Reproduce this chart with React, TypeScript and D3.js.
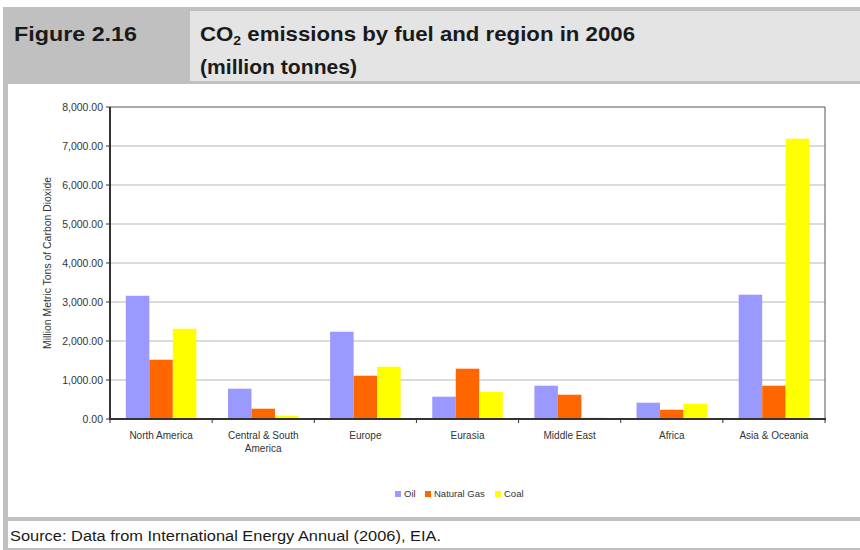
import React from "react";
import * as d3 from "d3";

// Regions and CO2 emissions (million metric tons) by fuel, 2006
const regions = [
  "North America",
  "Central & South America",
  "Europe",
  "Eurasia",
  "Middle East",
  "Africa",
  "Asia & Oceania",
];
const fuels = ["Oil", "Natural Gas", "Coal"];
const oil = [3160, 777, 2238, 572, 854, 418, 3187];
const naturalGas = [1520, 264, 1110, 1290, 623, 238, 854];
const coal = [2315, 85, 1341, 700, 40, 392, 7187];
const fuelColors = ["#9999ff", "#ff6600", "#ffff00"];
const yTicks = [0, 1000, 2000, 3000, 4000, 5000, 6000, 7000, 8000];
const regionLabelLines: string[][] = [
  ["North America"],
  ["Central & South", "America"],
  ["Europe"],
  ["Eurasia"],
  ["Middle East"],
  ["Africa"],
  ["Asia & Oceania"],
];

const W = 860;
const H = 550;
const plot = { left: 110, right: 825, top: 107, bottom: 419 };
const axisFont = "'Liberation Sans', Arial, sans-serif";

export default function App() {
  const series = [oil, naturalGas, coal];

  const x = d3
    .scaleBand<string>()
    .domain(regions)
    .range([plot.left, plot.right])
    .paddingInner(0.31)
    .paddingOuter(0.155);
  const xFuel = d3
    .scaleBand<string>()
    .domain(fuels)
    .range([0, x.bandwidth()])
    .padding(0);
  const y = d3.scaleLinear().domain([0, 8000]).range([plot.bottom, plot.top]);
  const fmt = d3.format(",.2f");
  const step = (plot.right - plot.left) / regions.length;

  return (
    <svg
      width={W}
      height={H}
      style={{ position: "absolute", left: 0, top: 0, background: "#fff" }}
    >
      {/* header band */}
      <rect x={3} y={7} width={W - 3} height={77} fill="#c0c0c0" />
      <rect x={190} y={11} width={W - 190} height={70} fill="#e4e4e4" />
      <text
        x={14}
        y={41}
        fontFamily={axisFont}
        fontWeight="bold"
        fontSize={20.5}
        fill="#1a1a1a"
        textLength={123}
        lengthAdjust="spacingAndGlyphs"
      >
        Figure 2.16
      </text>
      <text
        x={200}
        y={41}
        fontFamily={axisFont}
        fontWeight="bold"
        fontSize={20.5}
        fill="#1a1a1a"
        textLength={435}
        lengthAdjust="spacingAndGlyphs"
      >
        CO<tspan fontSize={13} dy={4}>2</tspan>
        <tspan dy={-4}> emissions by fuel and region in 2006</tspan>
      </text>
      <text
        x={200}
        y={74}
        fontFamily={axisFont}
        fontWeight="bold"
        fontSize={20.5}
        fill="#1a1a1a"
        textLength={157}
        lengthAdjust="spacingAndGlyphs"
      >
        (million tonnes)
      </text>

      {/* left border and footer */}
      <rect x={3} y={84} width={5} height={H - 84} fill="#c0c0c0" />
      <rect x={3} y={517} width={W - 3} height={4} fill="#c0c0c0" />
      <rect x={3} y={548} width={W - 3} height={2} fill="#c0c0c0" />
      <text
        x={10}
        y={541}
        fontFamily={axisFont}
        fontSize={15.5}
        fill="#1a1a1a"
        textLength={431}
        lengthAdjust="spacingAndGlyphs"
      >
        Source: Data from International Energy Annual (2006), EIA.
      </text>

      {/* gridlines */}
      {yTicks.slice(1, -1).map((t) => (
        <line
          key={"g" + t}
          x1={plot.left}
          x2={plot.right}
          y1={y(t)}
          y2={y(t)}
          stroke="#cfcfcf"
          strokeWidth={1.5}
        />
      ))}

      {/* bars */}
      {regions.map((r, i) => (
        <g key={r} transform={`translate(${x(r)},0)`}>
          {fuels.map((f, j) => (
            <rect
              key={f}
              x={xFuel(f)}
              y={y(series[j][i])}
              width={xFuel.bandwidth()}
              height={plot.bottom - y(series[j][i])}
              fill={fuelColors[j]}
            />
          ))}
        </g>
      ))}

      {/* plot frame */}
      <line x1={plot.left} x2={plot.right} y1={plot.top} y2={plot.top} stroke="#555" strokeWidth={1} />
      <line x1={plot.right} x2={plot.right} y1={plot.top} y2={plot.bottom} stroke="#555" strokeWidth={1} />
      <line x1={plot.left} x2={plot.left} y1={plot.top} y2={plot.bottom + 1} stroke="#333" strokeWidth={2} />
      <line x1={plot.left - 1} x2={plot.right + 1} y1={plot.bottom} y2={plot.bottom} stroke="#333" strokeWidth={2} />

      {/* y axis ticks and labels */}
      {yTicks.map((t) => (
        <g key={"y" + t}>
          <line x1={plot.left - 4} x2={plot.left} y1={y(t)} y2={y(t)} stroke="#333" strokeWidth={1} />
          <text
            x={plot.left - 7}
            y={y(t)}
            dy="0.35em"
            textAnchor="end"
            fontFamily={axisFont}
            fontSize={10.5}
            fill="#333"
          >
            {fmt(t)}
          </text>
        </g>
      ))}

      {/* x axis ticks at category boundaries */}
      {d3.range(regions.length + 1).map((k) => (
        <line
          key={"xt" + k}
          x1={plot.left + k * step}
          x2={plot.left + k * step}
          y1={plot.bottom}
          y2={plot.bottom + 4}
          stroke="#333"
          strokeWidth={1}
        />
      ))}
      {regions.map((r, i) => (
        <text
          key={"xl" + r}
          textAnchor="middle"
          fontFamily={axisFont}
          fontSize={10}
          fill="#333"
        >
          {regionLabelLines[i].map((line, li) => (
            <tspan key={li} x={x(r)! + x.bandwidth() / 2} y={439 + li * 13}>
              {line}
            </tspan>
          ))}
        </text>
      ))}

      {/* y axis title */}
      <text
        transform={`translate(51,263) rotate(-90)`}
        textAnchor="middle"
        fontFamily={axisFont}
        fontSize={10.5}
        fill="#333"
        textLength={172}
        lengthAdjust="spacingAndGlyphs"
      >
        Million Metric Tons of Carbon Dioxide
      </text>

      {/* legend */}
      {(() => {
        const starts = [395, 425, 495];
        return fuels.map((f, j) => (
          <g key={"lg" + f}>
            <rect x={starts[j]} y={491} width={6} height={6} fill={fuelColors[j]} />
            <text
              x={starts[j] + 9}
              y={497}
              fontFamily={axisFont}
              fontSize={9.5}
              fill="#333"
            >
              {f}
            </text>
          </g>
        ));
      })()}
    </svg>
  );
}
